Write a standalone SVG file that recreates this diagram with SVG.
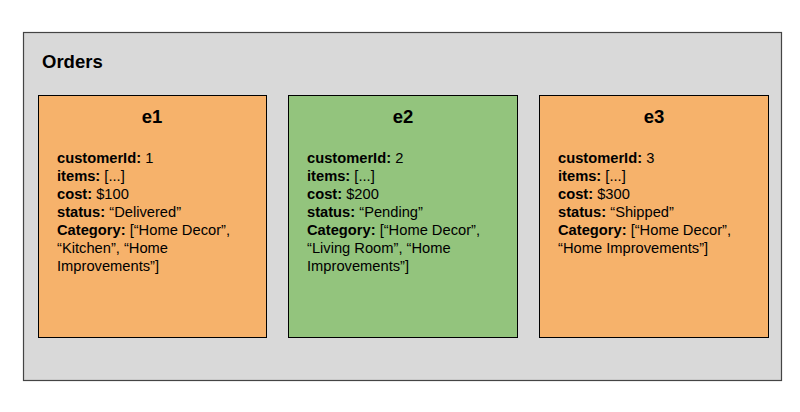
<svg xmlns="http://www.w3.org/2000/svg" width="800" height="412" viewBox="0 0 800 412">
<style>
.box{stroke:#000;stroke-width:1}
.t{font-family:"Liberation Sans",Arial,sans-serif;font-size:14.7px;fill:#000}
.b{font-weight:bold}
.h{font-family:"Liberation Sans",Arial,sans-serif;font-size:18.5px;font-weight:bold;fill:#000}
</style>
<rect width="800" height="412" fill="#fff"/>
<g id="orders">
<rect x="23.5" y="32.5" width="758" height="348" fill="#d9d9d9" stroke="#444" stroke-width="1.2"/>
<text class="h" x="42" y="68">Orders</text>
</g>
<g id="e1">
<rect class="box" x="38.5" y="95.5" width="228" height="242" fill="#f6b26b"/>
<text class="h" x="152" y="123" text-anchor="middle">e1</text>
<text class="t" x="57" y="163"><tspan class="b">customerId:</tspan> 1</text>
<text class="t" x="57" y="181"><tspan class="b">items:</tspan> [...]</text>
<text class="t" x="57" y="199"><tspan class="b">cost:</tspan> $100</text>
<text class="t" x="57" y="217"><tspan class="b">status:</tspan> “Delivered”</text>
<text class="t" x="57" y="235"><tspan class="b">Category:</tspan> [“Home Decor”,</text>
<text class="t" x="57" y="253">“Kitchen”, “Home</text>
<text class="t" x="57" y="271">Improvements”]</text>
</g>
<g id="e2">
<rect class="box" x="288.5" y="95.5" width="229" height="242" fill="#93c47d"/>
<text class="h" x="403" y="123" text-anchor="middle">e2</text>
<text class="t" x="307" y="163"><tspan class="b">customerId:</tspan> 2</text>
<text class="t" x="307" y="181"><tspan class="b">items:</tspan> [...]</text>
<text class="t" x="307" y="199"><tspan class="b">cost:</tspan> $200</text>
<text class="t" x="307" y="217"><tspan class="b">status:</tspan> “Pending”</text>
<text class="t" x="307" y="235"><tspan class="b">Category:</tspan> [“Home Decor”,</text>
<text class="t" x="307" y="253">“Living Room”, “Home</text>
<text class="t" x="307" y="271">Improvements”]</text>
</g>
<g id="e3">
<rect class="box" x="539.5" y="95.5" width="229" height="242" fill="#f6b26b"/>
<text class="h" x="654" y="123" text-anchor="middle">e3</text>
<text class="t" x="558" y="163"><tspan class="b">customerId:</tspan> 3</text>
<text class="t" x="558" y="181"><tspan class="b">items:</tspan> [...]</text>
<text class="t" x="558" y="199"><tspan class="b">cost:</tspan> $300</text>
<text class="t" x="558" y="217"><tspan class="b">status:</tspan> “Shipped”</text>
<text class="t" x="558" y="235"><tspan class="b">Category:</tspan> [“Home Decor”,</text>
<text class="t" x="558" y="253">“Home Improvements”]</text>
</g>
<g id="connectors"></g>
</svg>
